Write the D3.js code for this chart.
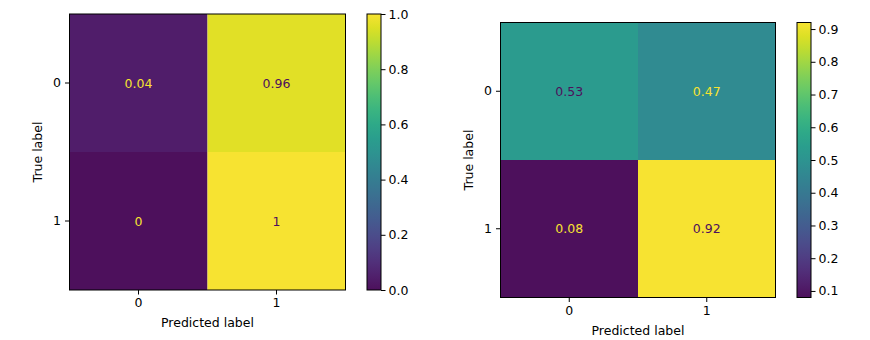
<!DOCTYPE html>
<html>
<head>
<meta charset="utf-8">
<script src="https://cdn.jsdelivr.net/npm/d3@7"></script>
<style>
  body { margin: 0; background: #fff; }
  text { font-family: "DejaVu Sans", sans-serif; }
</style>
</head>
<body>
<svg width="870" height="340"></svg>
<script>
const classes = ["0", "1"];
const leftMatrix = [[0.04, 0.96], [0, 1]];
const rightMatrix = [[0.53, 0.47], [0.08, 0.92]];
const leftTicks = [0, 0.2, 0.4, 0.6, 0.8, 1.0];
const rightTicks = [0.1, 0.2, 0.3, 0.4, 0.5, 0.6, 0.7, 0.8, 0.9];

const svg = d3.select("svg");
const fs = 12.5;

// screenshot is slightly washed out: nudge viridis a little toward light grey
function viridis(t) {
  return d3.interpolateRgb(d3.interpolateViridis(t), "#b8b8b8")(0.08);
}

function drawMatrix(cfg) {
  const g = svg.append("g");
  const flat = cfg.matrix.flat();
  const ext = d3.extent(flat);
  const color = d3.scaleSequential(viridis).domain(ext);

  const x = d3.scaleBand().domain(classes).range([cfg.x0, cfg.x0 + cfg.size]);
  const y = d3.scaleBand().domain(classes).range([cfg.y0, cfg.y0 + cfg.size]);

  const cells = [];
  cfg.matrix.forEach((row, i) => row.forEach((v, j) => cells.push({ r: classes[i], c: classes[j], v })));

  g.selectAll("rect.cell")
    .data(cells)
    .join("rect")
    .attr("x", d => x(d.c))
    .attr("y", d => y(d.r))
    .attr("width", x.bandwidth())
    .attr("height", y.bandwidth())
    .attr("fill", d => color(d.v));

  const mid = (ext[0] + ext[1]) / 2;
  g.selectAll("text.val")
    .data(cells)
    .join("text")
    .attr("x", d => x(d.c) + x.bandwidth() / 2)
    .attr("y", d => y(d.r) + y.bandwidth() / 2)
    .attr("text-anchor", "middle")
    .attr("dominant-baseline", "central")
    .style("font-size", fs + "px")
    .attr("fill", d => d.v < mid ? color(ext[1]) : color(ext[0]))
    .text(d => d3.format("")(d.v));

  // frame
  g.append("rect")
    .attr("x", cfg.x0).attr("y", cfg.y0)
    .attr("width", cfg.size).attr("height", cfg.size)
    .attr("fill", "none").attr("stroke", "#000").attr("stroke-width", 1);

  const xAxis = g.append("g")
    .attr("transform", `translate(0,${cfg.y0 + cfg.size})`)
    .call(d3.axisBottom(x).tickSize(4.5).tickPadding(4));
  const yAxis = g.append("g")
    .attr("transform", `translate(${cfg.x0},0)`)
    .call(d3.axisLeft(y).tickSize(4.5).tickPadding(4));
  [xAxis, yAxis].forEach(a => {
    a.select(".domain").remove();
    a.selectAll("text").style("font-size", fs + "px").attr("fill", "#000").style("font-family", "DejaVu Sans");
  });

  g.append("text")
    .attr("x", cfg.x0 + cfg.size / 2)
    .attr("y", cfg.y0 + cfg.size + 37)
    .attr("text-anchor", "middle")
    .style("font-size", fs + "px")
    .text("Predicted label");

  g.append("text")
    .attr("transform", `translate(${cfg.x0 - 28},${cfg.y0 + cfg.size / 2}) rotate(-90)`)
    .attr("text-anchor", "middle")
    .style("font-size", fs + "px")
    .text("True label");

  // colorbar
  const gradId = "grad" + cfg.id;
  const grad = svg.append("defs").append("linearGradient")
    .attr("id", gradId).attr("x1", "0").attr("y1", "1").attr("x2", "0").attr("y2", "0");
  d3.range(0, 1.0001, 0.05).forEach(t => {
    grad.append("stop").attr("offset", t).attr("stop-color", viridis(t));
  });
  const cy = d3.scaleLinear().domain(ext).range([cfg.y0 + cfg.size, cfg.y0]);
  g.append("rect")
    .attr("x", cfg.cbx).attr("y", cfg.y0)
    .attr("width", 14).attr("height", cfg.size)
    .attr("fill", `url(#${gradId})`)
    .attr("stroke", "#000").attr("stroke-width", 1);
  const cAxis = g.append("g")
    .attr("transform", `translate(${cfg.cbx + 14},0)`)
    .call(d3.axisRight(cy).tickValues(cfg.ticks).tickFormat(d3.format(".1f")).tickSize(4.5).tickPadding(3));
  cAxis.select(".domain").remove();
  cAxis.selectAll("text").style("font-size", fs + "px").attr("fill", "#000").style("font-family", "DejaVu Sans");
}

drawMatrix({ id: 1, matrix: leftMatrix, x0: 69.5, y0: 14, size: 276, cbx: 367, ticks: leftTicks });
drawMatrix({ id: 2, matrix: rightMatrix, x0: 500.5, y0: 22.5, size: 275, cbx: 797, ticks: rightTicks });
</script>
</body>
</html>
